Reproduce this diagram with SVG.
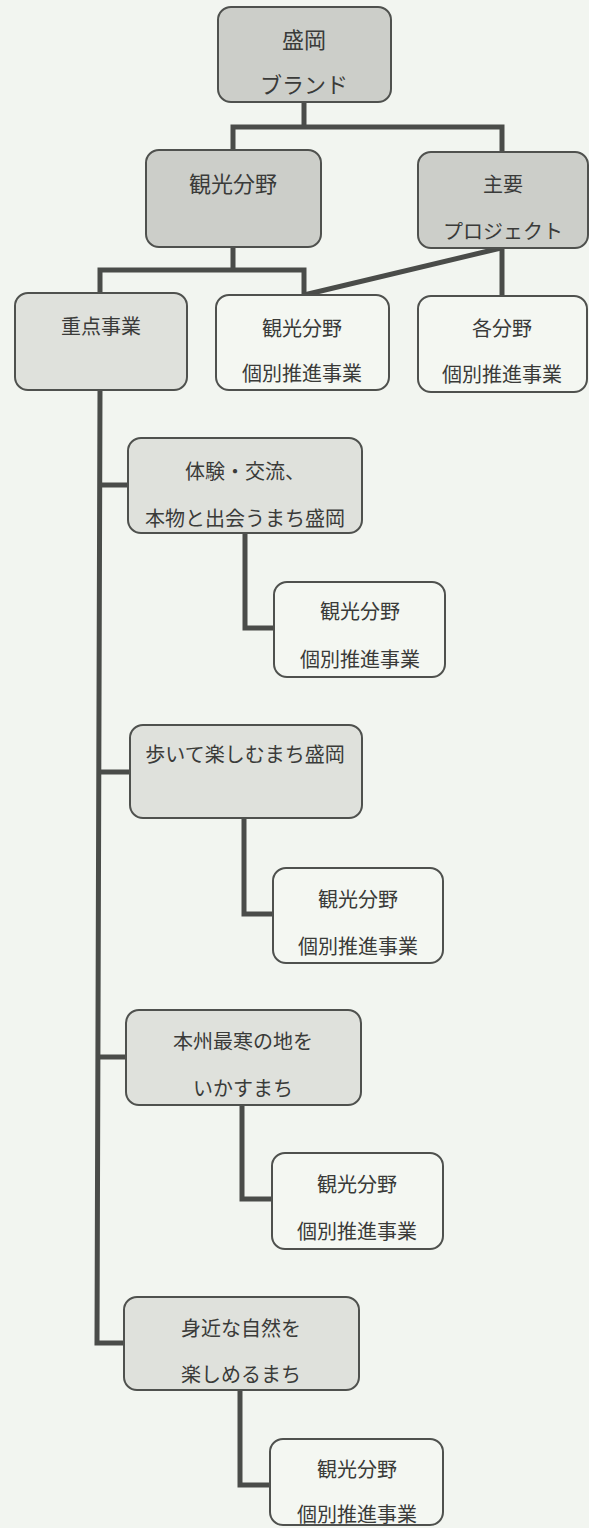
<svg xmlns="http://www.w3.org/2000/svg" width="589" height="1528" viewBox="0 0 589 1528">
<style>
.bg{fill:#f2f5f0}
.box{stroke:#4f514e;stroke-width:2}
.dark{fill:#cccec9}
.light{fill:#dfe1dc}
.white{fill:#f4f7f2}
.conn{fill:none;stroke:#4a4c49;stroke-width:5;stroke-linejoin:miter}
text{font-family:"Noto Sans CJK JP","Noto Sans CJK SC",sans-serif;font-size:20px;fill:#3a3b39;text-anchor:middle;dominant-baseline:central}
.big{font-size:22px}
</style>
<rect class="bg" x="0" y="0" width="589" height="1528"/>
<g id="connectors">
<path class="conn" d="M304,102 V127 M233,150 V127 H502 V152"/>
<path class="conn" d="M233,247 V270 M100,293 V270 H304 V295"/>
<path class="conn" d="M501,248 L304,295"/>
<path class="conn" d="M502,248 V296"/>
<path class="conn" d="M100,390 L97,1343 H124"/>
<path class="conn" d="M100,485 H128 M99,772 H130 M98,1057 H126"/>
<path class="conn" d="M245,533 V628 H274"/>
<path class="conn" d="M244,818 V914 H273"/>
<path class="conn" d="M242,1105 V1199 H272"/>
<path class="conn" d="M240,1390 V1485 H270"/>
</g>
<g id="brand"><rect class="box dark" x="218" y="7" width="173" height="95" rx="13"/><text class="big" x="304" y="38">盛岡</text><text class="big" x="304" y="83">ブランド</text></g>
<g id="kanko"><rect class="box dark" x="146" y="150" width="175" height="97" rx="13"/><text class="big" x="233" y="182">観光分野</text></g>
<g id="shuyo"><rect class="box dark" x="418" y="152" width="170" height="96" rx="13"/><text x="503" y="183">主要</text><text x="503" y="230">プロジェクト</text></g>
<g id="juten"><rect class="box light" x="15" y="293" width="172" height="97" rx="13"/><text x="101" y="325">重点事業</text></g>
<g id="kobetsu-kanko"><rect class="box white" x="216" y="295" width="173" height="95" rx="13"/><text x="302" y="327">観光分野</text><text x="302" y="372">個別推進事業</text></g>
<g id="kobetsu-kaku"><rect class="box white" x="418" y="296" width="169" height="96" rx="13"/><text x="502" y="327">各分野</text><text x="502" y="373">個別推進事業</text></g>
<g id="taiken"><rect class="box light" x="128" y="438" width="234" height="95" rx="13"/><text x="245" y="470">体験・交流、</text><text x="245" y="517">本物と出会うまち盛岡</text></g>
<g id="sub1"><rect class="box white" x="274" y="582" width="171" height="95" rx="13"/><text x="360" y="610">観光分野</text><text x="360" y="658">個別推進事業</text></g>
<g id="aruite"><rect class="box light" x="130" y="725" width="232" height="93" rx="13"/><text x="245" y="753">歩いて楽しむまち盛岡</text></g>
<g id="sub2"><rect class="box white" x="273" y="868" width="170" height="95" rx="13"/><text x="358" y="898">観光分野</text><text x="358" y="945">個別推進事業</text></g>
<g id="honshu"><rect class="box light" x="126" y="1010" width="235" height="95" rx="13"/><text x="243" y="1040">本州最寒の地を</text><text x="243" y="1087">いかすまち</text></g>
<g id="sub3"><rect class="box white" x="272" y="1153" width="171" height="96" rx="13"/><text x="357" y="1183">観光分野</text><text x="357" y="1230">個別推進事業</text></g>
<g id="mijika"><rect class="box light" x="124" y="1297" width="235" height="93" rx="13"/><text x="241" y="1327">身近な自然を</text><text x="241" y="1373">楽しめるまち</text></g>
<g id="sub4"><rect class="box white" x="270" y="1439" width="173" height="86" rx="13"/><text x="357" y="1468">観光分野</text><text x="357" y="1513">個別推進事業</text></g>
</svg>
